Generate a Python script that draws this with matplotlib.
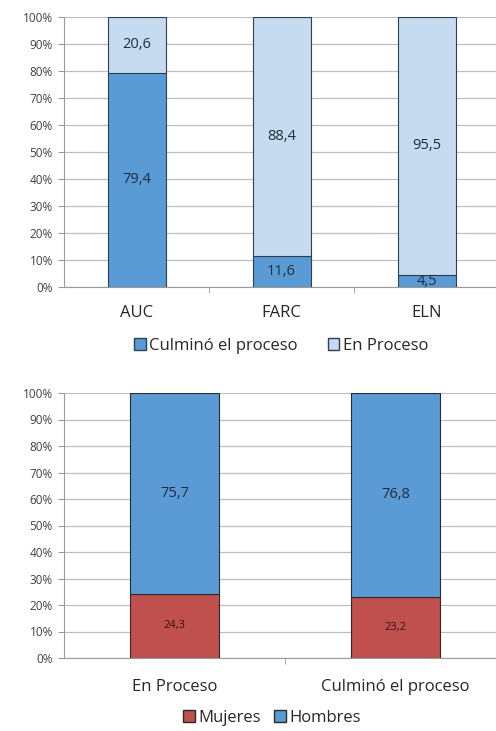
import matplotlib
matplotlib.use("Agg")
import matplotlib.pyplot as plt
from matplotlib.patches import Patch

plt.rcParams['font.family'] = ['Open Sans', 'DejaVu Sans']

# Top chart data
groups_top = ["AUC", "FARC", "ELN"]
culmino = [79.4, 11.6, 4.5]
en_proceso = [20.6, 88.4, 95.5]

# Bottom chart data
groups_bottom = ["En Proceso", "Culminó el proceso"]
mujeres = [24.3, 23.2]
hombres = [75.7, 76.8]

yticks = list(range(0, 101, 10))
ytick_labels = [f"{v}%" for v in yticks]

dark_blue = "#5B9BD5"
light_blue = "#C6DBF0"
red = "#C0504D"
edge = "#2B3F55"
grid_c = "#BFBFBF"
txt = "#262626"

fig = plt.figure(figsize=(4.96, 7.31), dpi=100)

def style_axes(ax, n, pad):
    ax.set_ylim(0, 100)
    ax.set_xlim(-0.5, n - 0.5)
    ax.set_yticks(yticks)
    ax.set_yticklabels(ytick_labels, fontsize=8.5, color="#404040")
    ax.yaxis.grid(True, color=grid_c, linewidth=0.9)
    ax.set_axisbelow(True)
    for s in ["top", "right"]:
        ax.spines[s].set_visible(False)
    ax.spines["left"].set_color("#9A9A9A")
    ax.spines["bottom"].set_color("#9A9A9A")
    ax.tick_params(axis="y", length=4, color="#9A9A9A", pad=4)
    ax.set_xticks([i + 0.5 for i in range(n - 1)], minor=True)
    ax.tick_params(axis="x", which="minor", length=4, color="#9A9A9A", direction="out")
    ax.tick_params(axis="x", which="major", length=0, pad=pad)

# Top axes
ax1 = fig.add_axes([64/496, 1 - 287/731, 435/496, 270/731])
x1 = list(range(len(groups_top)))
ax1.bar(x1, culmino, width=0.4, color=dark_blue, edgecolor=edge, linewidth=0.8)
ax1.bar(x1, en_proceso, width=0.4, bottom=culmino, color=light_blue, edgecolor=edge, linewidth=0.8)
style_axes(ax1, 3, 13)
ax1.set_xticks(x1)
ax1.set_xticklabels(groups_top, fontsize=12, color=txt)
for i in x1:
    c, e = culmino[i], en_proceso[i]
    ax1.text(i, c / 2 if c > 8 else c / 2 - 0.3, f"{c:.1f}".replace(".", ","),
             ha="center", va="center", fontsize=10.5, color="#1F2D3D")
    ax1.text(i, c + e / 2, f"{e:.1f}".replace(".", ","),
             ha="center", va="center", fontsize=10.5, color="#1F2D3D")
fig.legend(handles=[Patch(facecolor=dark_blue, edgecolor=edge, label="Culminó el proceso"),
                    Patch(facecolor=light_blue, edgecolor=edge, label="En Proceso")],
           loc="center", bbox_to_anchor=(281/496, 1 - 346/731), ncol=2, frameon=False,
           fontsize=12, handlelength=0.7, handleheight=0.7, handletextpad=0.2,
           columnspacing=1.8, labelcolor=txt)

# Bottom axes
ax2 = fig.add_axes([64/496, 1 - 658/731, 442/496, 265/731])
x2 = list(range(len(groups_bottom)))
ax2.bar(x2, mujeres, width=0.4, color=red, edgecolor="#2A2A2A", linewidth=0.8)
ax2.bar(x2, hombres, width=0.4, bottom=mujeres, color=dark_blue, edgecolor="#2A2A2A", linewidth=0.8)
style_axes(ax2, 2, 15)
ax2.set_xticks(x2)
ax2.set_xticklabels(groups_bottom, fontsize=12, color=txt)
for i in x2:
    m, h = mujeres[i], hombres[i]
    ax2.text(i, m / 2, f"{m:.1f}".replace(".", ","), ha="center", va="center",
             fontsize=8, color="#3A1010")
    ax2.text(i, m + h / 2, f"{h:.1f}".replace(".", ","), ha="center", va="center",
             fontsize=10.5, color="#1F2D3D")
fig.legend(handles=[Patch(facecolor=red, edgecolor="#2A2A2A", label="Mujeres"),
                    Patch(facecolor=dark_blue, edgecolor="#2A2A2A", label="Hombres")],
           loc="center", bbox_to_anchor=(272/496, 1 - 718/731), ncol=2, frameon=False,
           fontsize=12, handlelength=0.7, handleheight=0.7, handletextpad=0.2,
           columnspacing=0.8, labelcolor=txt)

fig.savefig("out.png", dpi=100)
